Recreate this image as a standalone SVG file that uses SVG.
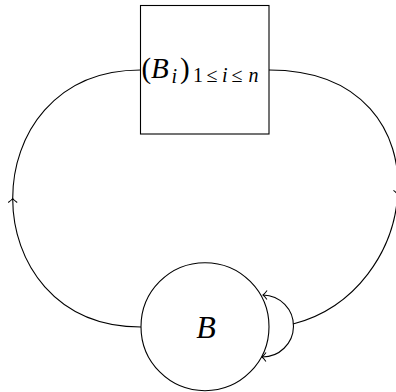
<svg xmlns="http://www.w3.org/2000/svg" width="396" height="392" viewBox="0 0 396 392">
<style>
.ln{fill:none;stroke:#000;stroke-width:1.1}
.nd{fill:#fff;stroke:#000;stroke-width:1.1}
.t{font-family:"Liberation Serif","DejaVu Serif",serif;fill:#000}
.it{font-style:italic}
</style>
<defs>
<marker id="to" viewBox="-6 -6 10 12" markerWidth="10" markerHeight="12" refX="0" refY="0" orient="auto-start-reverse" markerUnits="userSpaceOnUse" overflow="visible">
<path d="M-4,-4.5 Q-1.5,-1 0,0 Q-1.5,1 -4,4.5" fill="none" stroke="#000" stroke-width="1"/>
</marker>
</defs>
<rect width="396" height="392" fill="#fff"/>
<g id="connectors">
<path class="ln" d="M141,327 C55.5,327 12.75,262.75 12.7,198.5" marker-end="url(#to)"/>
<path class="ln" d="M12.7,198.5 C12.6,134.25 55.25,70 140.5,70"/>
<path class="ln" d="M269,70 C362.81,70 401.84,131.52 397.71,194.55" marker-end="url(#to)"/>
<path class="ln" d="M397.71,194.55 C394.05,250.45 356.45,307.55 293,324"/>
<path class="ln" d="M263,295 A31,31 0 0 1 262,357" marker-start="url(#to)" marker-end="url(#to)"/>
</g>
<g id="node-Bi">
<rect class="nd" x="140.5" y="5.5" width="128.5" height="128.5"/>
<text class="t" font-size="29" y="77.5"><tspan x="141.5">(</tspan><tspan class="it" x="151">B</tspan><tspan class="it" font-size="20" x="171.5" y="83">i</tspan><tspan x="180" y="77.5">)</tspan><tspan font-size="20" x="193" y="82">1</tspan><tspan font-size="20" x="206.5">≤</tspan><tspan class="it" font-size="20" x="222">i</tspan><tspan font-size="20" x="231.5">≤</tspan><tspan class="it" font-size="20" x="248.5">n</tspan></text>
</g>
<g id="node-B">
<circle class="nd" cx="205" cy="326.7" r="64"/>
<text class="t it" font-size="32" x="206" y="337.5" text-anchor="middle">B</text>
</g>
</svg>
